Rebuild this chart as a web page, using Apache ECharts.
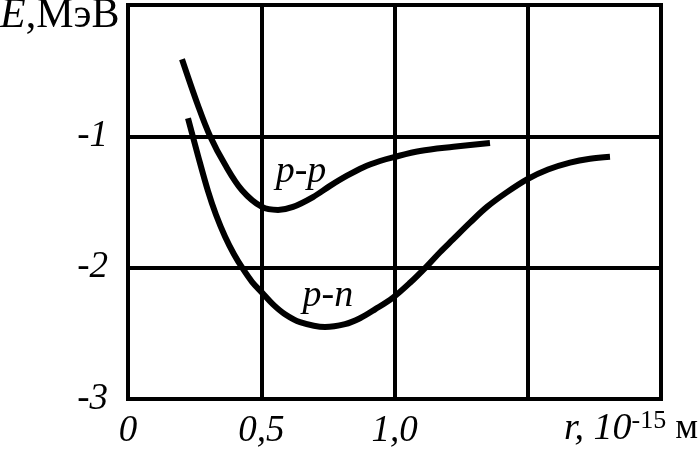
<!DOCTYPE html>
<html><head><meta charset="utf-8">
<script src="https://cdn.jsdelivr.net/npm/echarts@6/dist/echarts.min.js"></script>
<style>html,body{margin:0;padding:0;background:#fff}#c{width:698px;height:450px}</style>
</head><body><div id="c"></div>
<script>
const xTicks = [0, 0.5, 1.0, 1.5, 2.0];
const xTickLabels = ['0', '0,5', '1,0', '', ''];
const yTicks = [-3, -2, -1, 0];
const yTickLabels = ['-3', '-2', '-1', ''];
const ppX = [0.2026, 0.2627, 0.3077, 0.3640, 0.4278, 0.5028, 0.5629, 0.6191, 0.6942, 0.7580, 0.8218, 0.8837, 0.9456, 0.9944, 1.0957, 1.2214, 1.3583];
const ppY = [-0.4125, -0.765, -0.9975, -1.215, -1.410, -1.5375, -1.560, -1.5375, -1.4625, -1.3775, -1.300, -1.235, -1.188, -1.160, -1.112, -1.080, -1.050];
const pnX = [0.2251, 0.2627, 0.3002, 0.3302, 0.3640, 0.3977, 0.4315, 0.4653, 0.5028, 0.5441, 0.5891, 0.6454, 0.7392, 0.8143, 0.8705, 0.9268, 0.9944, 1.0582, 1.1220, 1.1707, 1.2195, 1.2833, 1.3471, 1.4221, 1.4972, 1.5760, 1.6585, 1.7336, 1.8086];
const pnY = [-0.8625, -1.1475, -1.4175, -1.5975, -1.7625, -1.8975, -2.010, -2.1075, -2.190, -2.280, -2.355, -2.415, -2.452, -2.430, -2.385, -2.3175, -2.2275, -2.115, -1.9875, -1.8825, -1.785, -1.6575, -1.5375, -1.425, -1.3275, -1.2525, -1.200, -1.170, -1.155];
const ppLabelPos = [0.649, -1.275];
const pnLabelPos = [0.750, -2.2125];

const F = 'Liberation Serif, Times New Roman, serif';
const zip = (a, b) => a.map((v, i) => [v, b[i]]);
const chart = echarts.init(document.getElementById('c'));
const lbl = (name, pos) => ({
  symbol: 'rect', symbolSize: 0,
  data: [{ coord: pos }],
  label: { show: true, position: 'inside', formatter: name, fontFamily: F, fontStyle: 'italic', fontSize: 38, color: '#000' }
});
chart.setOption({
  animation: false,
  grid: { left: 128, top: 5, width: 533, height: 400, show: true, borderColor: '#000', borderWidth: 4, backgroundColor: 'transparent' },
  xAxis: {
    type: 'value', min: 0, max: 2, interval: 0.5,
    axisLine: { show: true, lineStyle: { color: '#000', width: 4 } },
    axisTick: { show: false },
    splitLine: { show: true, lineStyle: { color: '#000', width: 4 } },
    axisLabel: {
      margin: 14, fontFamily: F, fontStyle: 'italic', fontSize: 37, color: '#000',
      formatter: v => { const i = xTicks.findIndex(t => Math.abs(t - v) < 1e-9); return i >= 0 ? xTickLabels[i] : ''; }
    }
  },
  yAxis: {
    type: 'value', min: -3, max: 0, interval: 1,
    axisLine: { show: true, lineStyle: { color: '#000', width: 4 } },
    axisTick: { show: false },
    splitLine: { show: true, lineStyle: { color: '#000', width: 4 } },
    axisLabel: {
      margin: 20, fontFamily: F, fontStyle: 'italic', fontSize: 37, color: '#000',
      formatter: v => { const i = yTicks.findIndex(t => Math.abs(t - v) < 1e-9); return i >= 0 ? yTickLabels[i] : ''; }
    }
  },
  series: [
    { type: 'line', name: 'p-p', data: zip(ppX, ppY), smooth: 0.35, showSymbol: false, symbol: 'none',
      lineStyle: { color: '#000', width: 6, cap: 'butt' }, markPoint: lbl('p-p', ppLabelPos) },
    { type: 'line', name: 'p-n', data: zip(pnX, pnY), smooth: 0.35, showSymbol: false, symbol: 'none',
      lineStyle: { color: '#000', width: 6, cap: 'butt' }, markPoint: lbl('p-n', pnLabelPos) }
  ],
  graphic: [
    { type: 'text', left: 0, top: -5, style: {
      text: '{i|E},{n|МэВ}', fontFamily: F, fontSize: 42, fill: '#000',
      rich: { i: { fontFamily: F, fontStyle: 'italic', fontSize: 42 }, n: { fontFamily: F, fontSize: 42 } } } },
    { type: 'text', right: 0, top: 408, style: {
      text: '{i|r, 10}{s|-15}{n| м}', fontFamily: F, fontSize: 37, fill: '#000',
      rich: { i: { fontFamily: F, fontStyle: 'italic', fontSize: 38 }, s: { fontFamily: F, fontSize: 26, verticalAlign: 'top', padding: [0, 0, 16, 0] }, n: { fontFamily: F, fontSize: 36 } } } }
  ]
});
</script></body></html>
